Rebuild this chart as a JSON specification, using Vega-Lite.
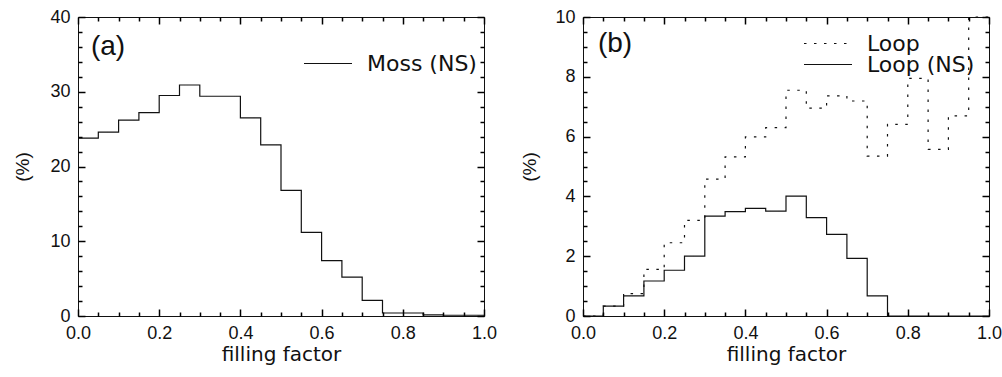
{
  "$schema": "https://vega.github.io/schema/vega-lite/v6.json",
  "padding": {"left": 13, "top": 7, "right": 0, "bottom": 0},
  "background": "white",
  "spacing": 22,
  "config": {
    "view": {"stroke": "#111", "strokeWidth": 1},
    "font": "Liberation Sans",
    "axis": {"grid": false, "domain": false, "labelFlush": false, "labelFont": "Liberation Sans", "labelFontSize": 18, "labelColor": "#111", "titleFont": "DejaVu Sans", "titleFontWeight": "normal", "titleColor": "#111", "tickColor": "#000", "tickWidth": 1.5, "tickOpacity": 1},
    "legend": {"symbolType": "stroke", "symbolSize": 2304, "symbolStrokeWidth": 1.2, "symbolStrokeColor": "#111", "labelFont": "DejaVu Sans", "labelFontSize": 22, "labelColor": "#111", "labelLimit": 300, "labelOffset": 14, "clipHeight": 17, "rowPadding": -2, "padding": 0, "title": null, "orient": "none"}
  },
  "datasets": {
    "moss": [
      {"ff": 0.00, "pct": 23.8, "series": "Moss (NS)"},
      {"ff": 0.05, "pct": 24.6, "series": "Moss (NS)"},
      {"ff": 0.10, "pct": 26.2, "series": "Moss (NS)"},
      {"ff": 0.15, "pct": 27.2, "series": "Moss (NS)"},
      {"ff": 0.20, "pct": 29.5, "series": "Moss (NS)"},
      {"ff": 0.25, "pct": 30.9, "series": "Moss (NS)"},
      {"ff": 0.30, "pct": 29.4, "series": "Moss (NS)"},
      {"ff": 0.35, "pct": 29.4, "series": "Moss (NS)"},
      {"ff": 0.40, "pct": 26.5, "series": "Moss (NS)"},
      {"ff": 0.45, "pct": 22.9, "series": "Moss (NS)"},
      {"ff": 0.50, "pct": 16.8, "series": "Moss (NS)"},
      {"ff": 0.55, "pct": 11.2, "series": "Moss (NS)"},
      {"ff": 0.60, "pct": 7.4, "series": "Moss (NS)"},
      {"ff": 0.65, "pct": 5.2, "series": "Moss (NS)"},
      {"ff": 0.70, "pct": 2.1, "series": "Moss (NS)"},
      {"ff": 0.75, "pct": 0.4, "series": "Moss (NS)"},
      {"ff": 0.80, "pct": 0.4, "series": "Moss (NS)"},
      {"ff": 0.85, "pct": 0.15, "series": "Moss (NS)"},
      {"ff": 0.90, "pct": 0.1, "series": "Moss (NS)"},
      {"ff": 0.95, "pct": 0.1, "series": "Moss (NS)"},
      {"ff": 1.00, "pct": 0.1, "series": "Moss (NS)"}
    ],
    "loop": [
      {"ff": 0.00, "pct": 0.0, "series": "Loop"},
      {"ff": 0.05, "pct": 0.33, "series": "Loop"},
      {"ff": 0.10, "pct": 0.75, "series": "Loop"},
      {"ff": 0.15, "pct": 1.56, "series": "Loop"},
      {"ff": 0.20, "pct": 2.45, "series": "Loop"},
      {"ff": 0.25, "pct": 3.2, "series": "Loop"},
      {"ff": 0.30, "pct": 4.58, "series": "Loop"},
      {"ff": 0.35, "pct": 5.32, "series": "Loop"},
      {"ff": 0.40, "pct": 5.99, "series": "Loop"},
      {"ff": 0.45, "pct": 6.30, "series": "Loop"},
      {"ff": 0.50, "pct": 7.55, "series": "Loop"},
      {"ff": 0.55, "pct": 6.95, "series": "Loop"},
      {"ff": 0.60, "pct": 7.36, "series": "Loop"},
      {"ff": 0.65, "pct": 7.19, "series": "Loop"},
      {"ff": 0.70, "pct": 5.35, "series": "Loop"},
      {"ff": 0.75, "pct": 6.41, "series": "Loop"},
      {"ff": 0.80, "pct": 7.95, "series": "Loop"},
      {"ff": 0.85, "pct": 5.57, "series": "Loop"},
      {"ff": 0.90, "pct": 6.69, "series": "Loop"},
      {"ff": 0.95, "pct": 10.0, "series": "Loop"},
      {"ff": 1.00, "pct": 10.0, "series": "Loop"},
      {"ff": 0.00, "pct": 0.0, "series": "Loop (NS)"},
      {"ff": 0.05, "pct": 0.33, "series": "Loop (NS)"},
      {"ff": 0.10, "pct": 0.67, "series": "Loop (NS)"},
      {"ff": 0.15, "pct": 1.17, "series": "Loop (NS)"},
      {"ff": 0.20, "pct": 1.53, "series": "Loop (NS)"},
      {"ff": 0.25, "pct": 2.0, "series": "Loop (NS)"},
      {"ff": 0.30, "pct": 3.34, "series": "Loop (NS)"},
      {"ff": 0.35, "pct": 3.49, "series": "Loop (NS)"},
      {"ff": 0.40, "pct": 3.60, "series": "Loop (NS)"},
      {"ff": 0.45, "pct": 3.51, "series": "Loop (NS)"},
      {"ff": 0.50, "pct": 4.01, "series": "Loop (NS)"},
      {"ff": 0.55, "pct": 3.29, "series": "Loop (NS)"},
      {"ff": 0.60, "pct": 2.73, "series": "Loop (NS)"},
      {"ff": 0.65, "pct": 1.93, "series": "Loop (NS)"},
      {"ff": 0.70, "pct": 0.67, "series": "Loop (NS)"},
      {"ff": 0.75, "pct": 0.0, "series": "Loop (NS)"},
      {"ff": 0.80, "pct": 0.0, "series": "Loop (NS)"},
      {"ff": 0.85, "pct": 0.0, "series": "Loop (NS)"},
      {"ff": 0.90, "pct": 0.0, "series": "Loop (NS)"},
      {"ff": 0.95, "pct": 0.0, "series": "Loop (NS)"},
      {"ff": 1.00, "pct": 0.0, "series": "Loop (NS)"}
    ]
  },
  "resolve": {"scale": {"strokeDash": "independent"}, "legend": {"strokeDash": "independent"}},
  "hconcat": [
    {
      "width": 406,
      "height": 299,
      "data": {"name": "moss"},
      "resolve": {"axis": {"x": "independent", "y": "independent"}},
      "layer": [
        {
          "mark": {"type": "line", "interpolate": "step-after", "color": "#111", "strokeWidth": 1.2},
          "encoding": {
            "x": {"field": "ff", "type": "quantitative", "scale": {"domain": [0, 1], "nice": false, "zero": false},
                  "axis": {"orient": "bottom", "values": [0, 0.2, 0.4, 0.6, 0.8, 1], "format": ".1f", "ticks": false, "tickSize": 0, "labelPadding": 8, "title": "filling factor", "titleFontSize": 20, "titlePadding": 2}},
            "y": {"field": "pct", "type": "quantitative", "scale": {"domain": [0, 40], "nice": false},
                  "axis": {"orient": "left", "values": [0, 10, 20, 30, 40], "ticks": false, "tickSize": 0, "labelPadding": 8, "title": "(%)", "titleFont": "Liberation Sans", "titleFontSize": 19, "titlePadding": 17}},
            "strokeDash": {"field": "series", "type": "nominal", "scale": {"domain": ["Moss (NS)"], "range": [[1, 0]]},
                           "legend": {"legendX": 225, "legendY": 38}}
          }
        },
        {
          "mark": {"type": "line", "opacity": 0},
          "encoding": {
            "x": {"field": "ff", "type": "quantitative", "axis": {"orient": "bottom", "zindex": 1, "values": [0, 0.2, 0.4, 0.6, 0.8, 1], "labels": false, "ticks": true, "tickSize": 7, "offset": -7, "title": null}},
            "y": {"field": "pct", "type": "quantitative", "axis": {"orient": "left", "zindex": 1, "values": [0, 10, 20, 30, 40], "labels": false, "ticks": true, "tickSize": 7, "offset": -7, "title": null}}
          }
        },
        {
          "mark": {"type": "line", "opacity": 0},
          "encoding": {
            "x": {"field": "ff", "type": "quantitative", "axis": {"orient": "bottom", "zindex": 1, "values": [0.05, 0.1, 0.15, 0.25, 0.3, 0.35, 0.45, 0.5, 0.55, 0.65, 0.7, 0.75, 0.85, 0.9, 0.95], "labels": false, "ticks": true, "tickSize": 4, "offset": -4, "title": null}},
            "y": {"field": "pct", "type": "quantitative", "axis": {"orient": "left", "zindex": 1, "values": [2, 4, 6, 8, 12, 14, 16, 18, 22, 24, 26, 28, 32, 34, 36, 38], "labels": false, "ticks": true, "tickSize": 4, "offset": -4, "title": null}}
          }
        },
        {
          "mark": {"type": "line", "opacity": 0},
          "encoding": {
            "x": {"field": "ff", "type": "quantitative", "axis": {"orient": "top", "zindex": 1, "values": [0, 0.2, 0.4, 0.6, 0.8, 1], "labels": false, "ticks": true, "tickSize": 7, "offset": -7, "title": null}},
            "y": {"field": "pct", "type": "quantitative", "axis": {"orient": "right", "zindex": 1, "values": [0, 10, 20, 30, 40], "labels": false, "ticks": true, "tickSize": 7, "offset": -7, "title": null}}
          }
        },
        {
          "mark": {"type": "line", "opacity": 0},
          "encoding": {
            "x": {"field": "ff", "type": "quantitative", "axis": {"orient": "top", "zindex": 1, "values": [0.05, 0.1, 0.15, 0.25, 0.3, 0.35, 0.45, 0.5, 0.55, 0.65, 0.7, 0.75, 0.85, 0.9, 0.95], "labels": false, "ticks": true, "tickSize": 4, "offset": -4, "title": null}},
            "y": {"field": "pct", "type": "quantitative", "axis": {"orient": "right", "zindex": 1, "values": [2, 4, 6, 8, 12, 14, 16, 18, 22, 24, 26, 28, 32, 34, 36, 38], "labels": false, "ticks": true, "tickSize": 4, "offset": -4, "title": null}}
          }
        },
        {
          "data": {"values": [{}]},
          "mark": {"type": "text", "text": "(a)", "font": "Liberation Sans", "fontSize": 28, "color": "#111", "align": "center", "baseline": "middle"},
          "encoding": {
            "x": {"datum": 0.074, "type": "quantitative", "axis": null},
            "y": {"datum": 36, "type": "quantitative", "axis": null}
          }
        }
      ]
    },
    {
      "width": 406,
      "height": 299,
      "data": {"name": "loop"},
      "resolve": {"axis": {"x": "independent", "y": "independent"}},
      "layer": [
        {
          "mark": {"type": "line", "interpolate": "step-after", "color": "#111", "strokeWidth": 1.2},
          "encoding": {
            "x": {"field": "ff", "type": "quantitative", "scale": {"domain": [0, 1], "nice": false, "zero": false},
                  "axis": {"orient": "bottom", "values": [0, 0.2, 0.4, 0.6, 0.8, 1], "format": ".1f", "ticks": false, "tickSize": 0, "labelPadding": 8, "title": "filling factor", "titleFontSize": 20, "titlePadding": 2}},
            "y": {"field": "pct", "type": "quantitative", "scale": {"domain": [0, 10], "nice": false},
                  "axis": {"orient": "left", "values": [0, 2, 4, 6, 8, 10], "ticks": false, "tickSize": 0, "labelPadding": 8, "title": "(%)", "titleFont": "Liberation Sans", "titleFontSize": 19, "titlePadding": 15}},
            "strokeDash": {"field": "series", "type": "nominal", "scale": {"domain": ["Loop", "Loop (NS)"], "range": [[2.5, 7.5], [1, 0]]},
                           "legend": {"legendX": 220, "legendY": 18}}
          }
        },
        {
          "mark": {"type": "line", "opacity": 0},
          "encoding": {
            "x": {"field": "ff", "type": "quantitative", "axis": {"orient": "bottom", "zindex": 1, "values": [0, 0.2, 0.4, 0.6, 0.8, 1], "labels": false, "ticks": true, "tickSize": 7, "offset": -7, "title": null}},
            "y": {"field": "pct", "type": "quantitative", "axis": {"orient": "left", "zindex": 1, "values": [0, 2, 4, 6, 8, 10], "labels": false, "ticks": true, "tickSize": 7, "offset": -7, "title": null}}
          }
        },
        {
          "mark": {"type": "line", "opacity": 0},
          "encoding": {
            "x": {"field": "ff", "type": "quantitative", "axis": {"orient": "bottom", "zindex": 1, "values": [0.05, 0.1, 0.15, 0.25, 0.3, 0.35, 0.45, 0.5, 0.55, 0.65, 0.7, 0.75, 0.85, 0.9, 0.95], "labels": false, "ticks": true, "tickSize": 4, "offset": -4, "title": null}},
            "y": {"field": "pct", "type": "quantitative", "axis": {"orient": "left", "zindex": 1, "values": [0.5, 1, 1.5, 2.5, 3, 3.5, 4.5, 5, 5.5, 6.5, 7, 7.5, 8.5, 9, 9.5], "labels": false, "ticks": true, "tickSize": 4, "offset": -4, "title": null}}
          }
        },
        {
          "mark": {"type": "line", "opacity": 0},
          "encoding": {
            "x": {"field": "ff", "type": "quantitative", "axis": {"orient": "top", "zindex": 1, "values": [0, 0.2, 0.4, 0.6, 0.8, 1], "labels": false, "ticks": true, "tickSize": 7, "offset": -7, "title": null}},
            "y": {"field": "pct", "type": "quantitative", "axis": {"orient": "right", "zindex": 1, "values": [0, 2, 4, 6, 8, 10], "labels": false, "ticks": true, "tickSize": 7, "offset": -7, "title": null}}
          }
        },
        {
          "mark": {"type": "line", "opacity": 0},
          "encoding": {
            "x": {"field": "ff", "type": "quantitative", "axis": {"orient": "top", "zindex": 1, "values": [0.05, 0.1, 0.15, 0.25, 0.3, 0.35, 0.45, 0.5, 0.55, 0.65, 0.7, 0.75, 0.85, 0.9, 0.95], "labels": false, "ticks": true, "tickSize": 4, "offset": -4, "title": null}},
            "y": {"field": "pct", "type": "quantitative", "axis": {"orient": "right", "zindex": 1, "values": [0.5, 1, 1.5, 2.5, 3, 3.5, 4.5, 5, 5.5, 6.5, 7, 7.5, 8.5, 9, 9.5], "labels": false, "ticks": true, "tickSize": 4, "offset": -4, "title": null}}
          }
        },
        {
          "data": {"values": [{}]},
          "mark": {"type": "text", "text": "(b)", "font": "Liberation Sans", "fontSize": 28, "color": "#111", "align": "center", "baseline": "middle"},
          "encoding": {
            "x": {"datum": 0.079, "type": "quantitative", "axis": null},
            "y": {"datum": 9.1, "type": "quantitative", "axis": null}
          }
        }
      ]
    }
  ]
}
